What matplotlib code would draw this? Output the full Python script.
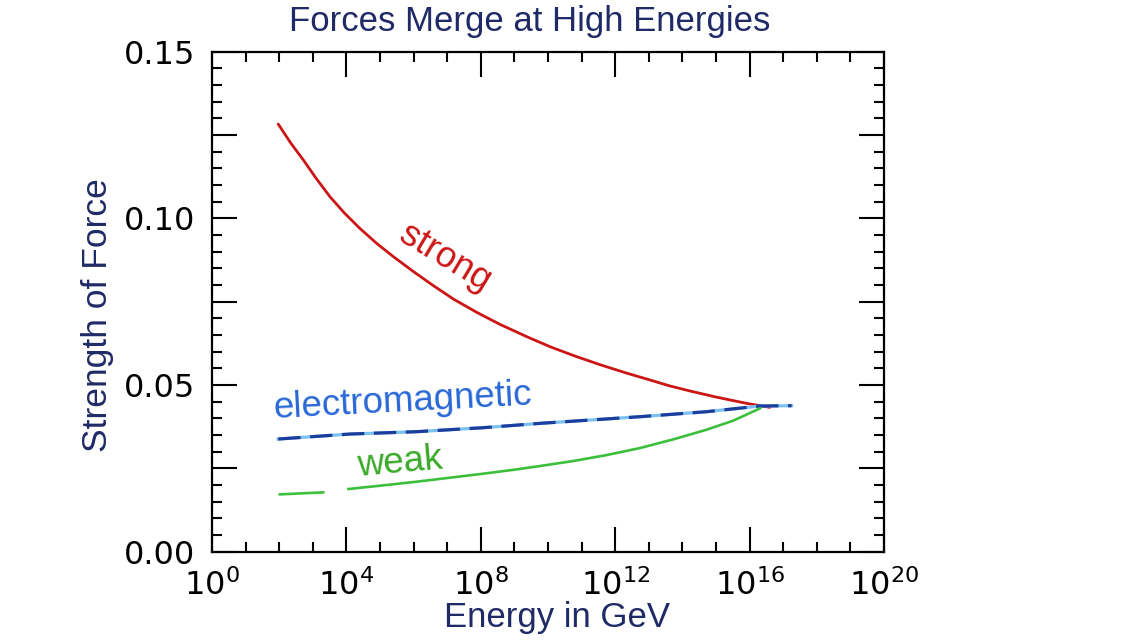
import numpy as np
import matplotlib
matplotlib.use("Agg")
import matplotlib.pyplot as plt
from matplotlib.ticker import FixedLocator, LogFormatterSciNotation, NullFormatter, FuncFormatter

# ---- data (log10 of energy in GeV, strength) ----
strong_logE = [1.97, 2.35, 2.72, 3.10, 3.51, 3.95, 4.40, 4.90, 5.40, 6.00, 6.59, 7.20, 7.88,
               8.57, 9.37, 10.06, 10.80, 11.55, 12.30, 13.04, 13.60, 14.23, 15.00, 15.91, 16.60]
strong_val = [0.1283, 0.1225, 0.1175, 0.1120, 0.1065, 0.1015, 0.0970, 0.0925, 0.0885, 0.0840,
              0.0798, 0.0757, 0.0718, 0.0682, 0.0645, 0.0615, 0.0587, 0.0561, 0.0537, 0.0515,
              0.0498, 0.0482, 0.0464, 0.0445, 0.0433]

em_logE = [1.97, 4.11, 6.09, 8.07, 9.76, 12.74, 14.72, 16.31, 17.25]
em_val = [0.0338, 0.0353, 0.0360, 0.0372, 0.0385, 0.0405, 0.0420, 0.0437, 0.0438]

weak_logE = [2.02, 3.31, np.nan, 4.06, 5.00, 6.09, 7.00, 8.07, 9.00, 9.76, 10.75, 11.75,
             12.74, 13.73, 14.72, 15.51, 16.31]
weak_val = [0.0172, 0.0178, np.nan, 0.0188, 0.0198, 0.0210, 0.0221, 0.0234, 0.0246, 0.0257,
            0.0272, 0.0290, 0.0311, 0.0337, 0.0366, 0.0393, 0.0430]

x_major_exp = [0, 4, 8, 12, 16, 20]
y_labels = [0.00, 0.05, 0.10, 0.15]

title = "Forces Merge at High Energies"
xlabel = "Energy in GeV"
ylabel = "Strength of Force"

navy = "#1f2a66"
red = "#cc1616"
dark_blue = "#1b3d9e"
light_blue = "#7cc0ee"
green = "#3cc03c"

fig = plt.figure(figsize=(11.38, 6.4), dpi=100)
ax = fig.add_axes([212/1138, 1-551.7/640, (884-212)/1138, (551.7-51.7)/640])

E = lambda l: 10.0 ** np.asarray(l, dtype=float)

ax.plot(E(strong_logE), strong_val, color=red, lw=2.0, solid_capstyle="round")
ax.plot(E(em_logE), em_val, color=light_blue, lw=2.3)
ax.plot(E(em_logE), em_val, color=dark_blue, lw=2.3, dashes=(7, 3))
ax.plot(E(weak_logE), weak_val, color=green, lw=1.9)

ax.set_xscale("log")
ax.set_xlim(1e0, 1e20)
ax.set_ylim(0, 0.15)

ax.xaxis.set_major_locator(FixedLocator(10.0 ** np.array(x_major_exp)))
ax.xaxis.set_minor_locator(FixedLocator(10.0 ** np.arange(0, 21)))
ax.xaxis.set_major_formatter(LogFormatterSciNotation())
ax.xaxis.set_minor_formatter(NullFormatter())

ax.yaxis.set_major_locator(FixedLocator(np.arange(0, 0.1501, 0.025)))
ax.yaxis.set_minor_locator(FixedLocator(np.arange(0, 0.1501, 0.005)))
ax.yaxis.set_major_formatter(FuncFormatter(
    lambda v, p: f"{v:.2f}" if any(abs(v - t) < 1e-9 for t in y_labels) else ""))

ax.tick_params(which="both", direction="in", top=True, right=True, width=1.5, colors="black")
ax.tick_params(which="major", length=18)
ax.tick_params(which="minor", length=7)
ax.tick_params(axis="y", which="major", labelsize=23, pad=12)
ax.tick_params(axis="x", which="major", labelsize=23, pad=13)
for sp in ax.spines.values():
    sp.set_linewidth(1.6)

lab_font = dict(family=["Liberation Sans", "DejaVu Sans"])
ax.text(E(6.93), 0.0881, "strong", color=red, fontsize=26, rotation=-31,
        ha="center", va="center", rotation_mode="anchor", **lab_font)
ax.text(E(5.68), 0.0449, "electromagnetic", color="#2a68d6", fontsize=26.5, rotation=3,
        ha="center", va="center", rotation_mode="anchor", **lab_font)
ax.text(E(5.6), 0.0266, "weak", color="#3aaa2a", fontsize=26.5, rotation=5,
        ha="center", va="center", rotation_mode="anchor", **lab_font)

fig.text(530/1138, 1-22/640, title, color=navy, fontsize=25, ha="center", va="center", **lab_font)
fig.text(557/1138, 1-617/640, xlabel, color=navy, fontsize=25, ha="center", va="center", **lab_font)
fig.text(97/1138, 1-315/640, ylabel, color=navy, fontsize=25.5, ha="center", va="center",
         rotation=90, **lab_font)

fig.savefig("out.png", dpi=100, facecolor="white")
